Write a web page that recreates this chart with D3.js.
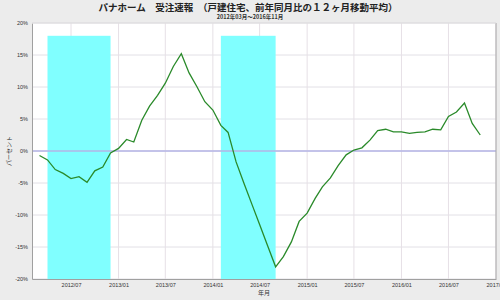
<!DOCTYPE html>
<html><head><meta charset="utf-8">
<script src="https://cdn.jsdelivr.net/npm/d3@7"></script>
<style>body{margin:0;background:#ececec;}svg{display:block;}</style>
</head><body>
<script>
const months = ["2012-03","2012-04","2012-05","2012-06","2012-07","2012-08","2012-09","2012-10","2012-11","2012-12",
"2013-01","2013-02","2013-03","2013-04","2013-05","2013-06","2013-07","2013-08","2013-09","2013-10","2013-11","2013-12",
"2014-01","2014-02","2014-03","2014-04","2014-05","2014-06","2014-07","2014-08","2014-09","2014-10","2014-11","2014-12",
"2015-01","2015-02","2015-03","2015-04","2015-05","2015-06","2015-07","2015-08","2015-09","2015-10","2015-11","2015-12",
"2016-01","2016-02","2016-03","2016-04","2016-05","2016-06","2016-07","2016-08","2016-09","2016-10","2016-11"];
const values = [-0.7,-1.4,-2.9,-3.5,-4.3,-4.0,-4.9,-3.1,-2.5,-0.3,
0.4,1.8,1.4,4.8,7.0,8.7,10.6,13.2,15.2,12.2,10.0,7.7,
6.4,4.0,2.9,-1.7,-5.0,-8.3,-11.5,-14.8,-18.1,-16.5,-14.2,-11.0,
-9.7,-7.4,-5.6,-4.2,-2.3,-0.6,0.15,0.5,1.7,3.2,3.4,3.0,
3.0,2.75,2.9,3.0,3.4,3.3,5.4,6.1,7.5,4.3,2.5];
const bandStarts = ["2012-04","2014-02"];
const bandEnds = ["2012-12","2014-09"];
const bandTop = 18, bandBottom = -20;
const yTicks = [-20,-15,-10,-5,0,5,10,15,20];
const title = "パナホーム　受注速報　（戸建住宅、前年同月比の１２ヶ月移動平均）";
const subtitle = "2012年03月～2016年11月";
const xLabel = "年月", yLabel = "パーセント";

const W=500,H=300, L=32,R=496,T=23,B=279;
const parse = d3.timeParse("%Y-%m");
const svg = d3.select("body").append("svg").attr("width",W).attr("height",H);
svg.append("rect").attr("width",W).attr("height",H).attr("fill","#ececec");
const x = d3.scaleTime().domain([new Date(2012,1,1), new Date(2017,0,1)]).range([L,R]);
const y = d3.scaleLinear().domain([-20,20]).range([B,T]);
const JP = "'Noto Sans CJK JP', sans-serif";

svg.append("rect").attr("x",L).attr("y",T).attr("width",R-L).attr("height",B-T).attr("fill","#fff");

const xt = x.ticks(d3.timeMonth.every(6));
// grid
svg.append("g").selectAll("line").data(yTicks).join("line")
  .attr("x1",L).attr("x2",R).attr("y1",d=>y(d)).attr("y2",d=>y(d))
  .attr("stroke","#e2e0e6").attr("stroke-width",1);
svg.append("g").selectAll("line").data(xt).join("line")
  .attr("y1",T).attr("y2",B).attr("x1",d=>x(d)).attr("x2",d=>x(d))
  .attr("stroke","#e6e0e6").attr("stroke-width",1);

// bands
svg.append("g").selectAll("rect").data(bandStarts.map((s,i)=>[parse(s),parse(bandEnds[i])])).join("rect")
  .attr("x",d=>x(d[0])).attr("width",d=>x(d[1])-x(d[0]))
  .attr("y",y(bandTop)).attr("height",y(bandBottom)-y(bandTop))
  .attr("fill","#80ffff");

// zero line
svg.append("line").attr("x1",L).attr("x2",R).attr("y1",y(0)).attr("y2",y(0))
  .attr("stroke","#b4b4e6").attr("stroke-width",1.5);

// axes
const ax = svg.append("g").attr("transform",`translate(0,${B})`)
  .call(d3.axisBottom(x).tickValues(xt).tickFormat(d3.timeFormat("%Y/%m")).tickSize(0).tickPadding(4));
ax.select(".domain").attr("stroke","#a0a0a0");
ax.selectAll("text").attr("font-size",5.5).attr("fill","#333").attr("font-family","Arial, sans-serif");
const ay = svg.append("g").attr("transform",`translate(${L},0)`)
  .call(d3.axisLeft(y).tickValues(yTicks).tickFormat(d=>d+"%").tickSize(0).tickPadding(4));
ay.select(".domain").attr("stroke","#a0a0a0");
ay.selectAll("text").attr("font-size",5.5).attr("fill","#333").attr("font-family","Arial, sans-serif");
svg.append("line").attr("x1",R).attr("x2",R).attr("y1",T).attr("y2",B).attr("stroke","#a8a8a8");
svg.append("line").attr("x1",L).attr("x2",R).attr("y1",T).attr("y2",T).attr("stroke","#dddddd");

// line
const data = months.map((m,i)=>({d:parse(m),v:values[i]}));
svg.append("path").datum(data)
  .attr("d",d3.line().x(d=>x(d.d)).y(d=>y(d.v)))
  .attr("fill","none").attr("stroke","#2a8a2a").attr("stroke-width",1.3);

// titles
svg.append("text").attr("x",248).attr("y",11).attr("text-anchor","middle")
  .attr("font-family",JP).attr("font-weight","bold").attr("font-size",9.5).attr("fill","#222").text(title);
svg.append("text").attr("x",250).attr("y",19).attr("text-anchor","middle")
  .attr("font-family",JP).attr("font-weight","bold").attr("font-size",5.5).attr("fill","#333").text(subtitle);
svg.append("text").attr("x",264).attr("y",295).attr("text-anchor","middle")
  .attr("font-family",JP).attr("font-size",6).attr("fill","#333").text(xLabel);
svg.append("text").attr("transform",`translate(11,${y(0)}) rotate(-90)`).attr("text-anchor","middle")
  .attr("font-family",JP).attr("font-size",6).attr("fill","#333").text(yLabel);
</script>
</body></html>
